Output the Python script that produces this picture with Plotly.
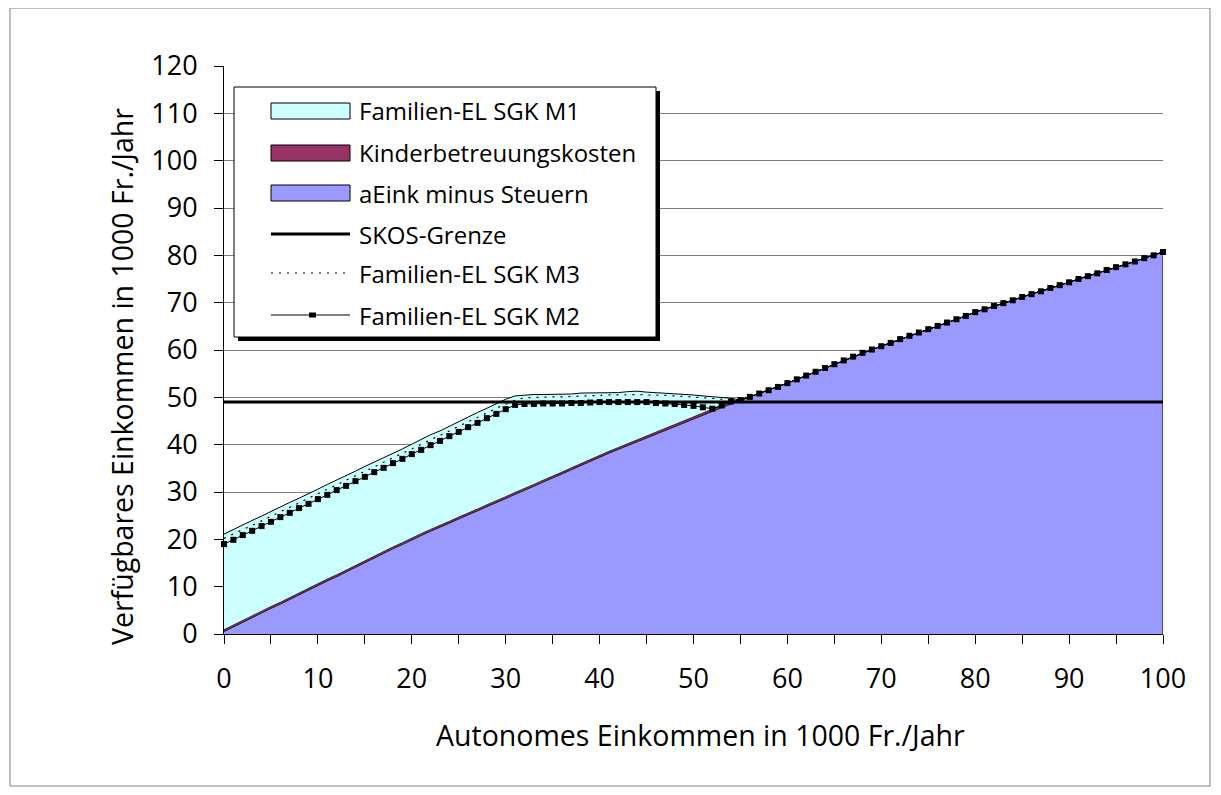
import plotly.graph_objects as go

# ---------------- data ----------------
einkommen = list(range(0, 101))  # Autonomes Einkommen, 1000 Fr./Jahr

aeink_minus_steuern = [
    0.5, 1.5, 2.4, 3.4, 4.4, 5.4, 6.3, 7.3, 8.3, 9.2, 10.2, 11.2, 12.1, 13.1, 14.1, 15.1, 16.0, 17.0, 18.0, 18.9, 19.9,
    20.8, 21.7, 22.5, 23.4, 24.3, 25.1, 26.0, 26.9, 27.7, 28.6, 29.5, 30.3, 31.2, 32.1, 32.9, 33.8, 34.7, 35.6, 36.4, 37.3, 38.2,
    39.0, 39.8, 40.6, 41.5, 42.3, 43.1, 43.9, 44.7, 45.5, 46.3, 47.1, 47.9, 48.7,
    49.4, 50.1, 50.8, 51.5, 52.2, 53.0, 53.8, 54.6, 55.4, 56.2, 57.0, 57.8, 58.6, 59.4, 60.1, 60.8,
    61.5, 62.3, 63.0, 63.7, 64.4, 65.1, 65.8, 66.5, 67.2, 68.0, 68.6, 69.3, 69.9, 70.5, 71.2, 71.8,
    72.4, 73.1, 73.7, 74.3, 75.0, 75.6, 76.2, 76.9, 77.5, 78.1, 78.7, 79.4, 80.0, 80.7,
]

kinderbetreuungskosten = [
    0.4, 0.4, 0.4, 0.4, 0.4, 0.4, 0.4, 0.4, 0.4, 0.4, 0.4, 0.4, 0.4, 0.4, 0.4, 0.4, 0.4, 0.4, 0.4, 0.4, 0.4,
    0.4, 0.4, 0.4, 0.4, 0.4, 0.4, 0.4, 0.4, 0.4, 0.4, 0.4, 0.4, 0.4, 0.4, 0.4, 0.4, 0.4, 0.4, 0.4, 0.4, 0.4,
    0.4, 0.4, 0.4, 0.4, 0.4, 0.4, 0.4, 0.4, 0.4, 0.4, 0.4, 0.4, 0.4,
    0.0, 0.0, 0.0, 0.0, 0.0, 0.0, 0.0, 0.0, 0.0, 0.0, 0.0, 0.0, 0.0, 0.0, 0.0, 0.0,
    0.0, 0.0, 0.0, 0.0, 0.0, 0.0, 0.0, 0.0, 0.0, 0.0, 0.0, 0.0, 0.0, 0.0, 0.0, 0.0,
    0.0, 0.0, 0.0, 0.0, 0.0, 0.0, 0.0, 0.0, 0.0, 0.0, 0.0, 0.0, 0.0, 0.0,
]

familien_el_m1 = [
    20.2, 20.2, 20.2, 20.2, 20.1, 20.1, 20.1, 20.1, 20.0, 20.0, 20.0, 20.0, 20.0, 19.9, 19.9, 19.9, 19.9, 19.9, 19.8, 19.8, 19.8,
    19.9, 20.0, 20.0, 20.1, 20.2, 20.3, 20.4, 20.4, 20.5, 20.6,
    20.4, 19.8, 19.0, 18.1, 17.3, 16.4, 15.6, 14.9, 14.1, 13.3, 12.4, 11.6, 11.0, 10.3, 9.2, 8.3, 7.4, 6.4, 5.5, 4.6, 3.6, 2.6, 1.6, 0.7,
    0.0, 0.0, 0.0, 0.0, 0.0, 0.0, 0.0, 0.0, 0.0, 0.0, 0.0, 0.0, 0.0, 0.0, 0.0, 0.0,
    0.0, 0.0, 0.0, 0.0, 0.0, 0.0, 0.0, 0.0, 0.0, 0.0, 0.0, 0.0, 0.0, 0.0, 0.0, 0.0,
    0.0, 0.0, 0.0, 0.0, 0.0, 0.0, 0.0, 0.0, 0.0, 0.0, 0.0, 0.0, 0.0, 0.0,
]

familien_el_m3 = [
    20.2, 21.1, 22.0, 23.0, 23.9, 24.9, 25.8, 26.8, 27.7, 28.7, 29.6, 30.6, 31.5, 32.5, 33.4, 34.4, 35.3, 36.3, 37.2, 38.2, 39.1,
    40.1, 41.0, 42.0, 42.9, 43.9, 44.8, 45.8, 46.7, 47.7, 48.6,
    49.4, 49.9, 50.0, 50.0, 50.1, 50.1, 50.2, 50.3, 50.3, 50.4, 50.5, 50.5, 50.6, 50.6, 50.5, 50.5, 50.4, 50.3, 50.2, 50.1, 50.0, 49.8, 49.6, 49.4,
    49.4, 50.1, 50.8, 51.5, 52.2, 53.0, 53.8, 54.6, 55.4, 56.2, 57.0, 57.8, 58.6, 59.4, 60.1, 60.8,
    61.5, 62.3, 63.0, 63.7, 64.4, 65.1, 65.8, 66.5, 67.2, 68.0, 68.6, 69.3, 69.9, 70.5, 71.2, 71.8,
    72.4, 73.1, 73.7, 74.3, 75.0, 75.6, 76.2, 76.9, 77.5, 78.1, 78.7, 79.4, 80.0, 80.7,
]

familien_el_m2 = [
    19.0, 19.9, 20.9, 21.8, 22.8, 23.7, 24.7, 25.6, 26.6, 27.5, 28.5, 29.4, 30.4, 31.3, 32.3, 33.2, 34.2, 35.1, 36.1, 37.0, 38.0,
    38.9, 39.9, 40.8, 41.8, 42.7, 43.7, 44.6, 45.6, 46.5, 47.5,
    48.4, 48.6, 48.6, 48.7, 48.7, 48.7, 48.8, 48.8, 48.9, 49.0, 49.0, 49.0, 49.0, 49.0, 49.0, 48.8, 48.7, 48.6, 48.4, 48.2, 47.9, 47.6, 48.3, 49.1,
    49.4, 50.1, 50.8, 51.5, 52.2, 53.0, 53.8, 54.6, 55.4, 56.2, 57.0, 57.8, 58.6, 59.4, 60.1, 60.8,
    61.5, 62.3, 63.0, 63.7, 64.4, 65.1, 65.8, 66.5, 67.2, 68.0, 68.6, 69.3, 69.9, 70.5, 71.2, 71.8,
    72.4, 73.1, 73.7, 74.3, 75.0, 75.6, 76.2, 76.9, 77.5, 78.1, 78.7, 79.4, 80.0, 80.7,
]

skos_grenze = 49.0

legend_labels = [
    "Familien-EL SGK M1",
    "Kinderbetreuungskosten",
    "aEink minus Steuern",
    "SKOS-Grenze",
    "Familien-EL SGK M3",
    "Familien-EL SGK M2",
]

x_title = "Autonomes Einkommen in 1000 Fr./Jahr"
y_title = "Verfügbares Einkommen in 1000 Fr./Jahr"

# ---------------- styles ----------------
C_CYAN = "#CCFFFF"
C_MAROON = "#993366"
C_BLUE = "#9999FF"
FONT = "Open Sans"

OFF = 8                      # page body margin
W, H = 1221 - OFF, 795 - OFF
PL, PR, PT, PB = 224, 1163, 66, 634   # plot area in page pixels


def px(xp):
    return (xp - PL) / (PR - PL)


def py(yp):
    return (PB - yp) / (PB - PT)


fig = go.Figure()

fig.add_trace(go.Scatter(x=einkommen, y=aeink_minus_steuern, stackgroup="s", mode="lines",
                         fillcolor=C_BLUE, line=dict(color="black", width=0.8), showlegend=False,
                         name=legend_labels[2]))
fig.add_trace(go.Scatter(x=einkommen, y=kinderbetreuungskosten, stackgroup="s", mode="lines",
                         fillcolor=C_MAROON, line=dict(color="black", width=0.8), showlegend=False,
                         name=legend_labels[1]))
fig.add_trace(go.Scatter(x=einkommen, y=familien_el_m1, stackgroup="s", mode="lines",
                         fillcolor=C_CYAN, line=dict(color="black", width=1), showlegend=False,
                         name=legend_labels[0]))

# right edge of the stacked area
top_last = aeink_minus_steuern[-1] + kinderbetreuungskosten[-1] + familien_el_m1[-1]
fig.add_trace(go.Scatter(x=[einkommen[-1], einkommen[-1]], y=[0, top_last], mode="lines",
                         line=dict(color="black", width=1), showlegend=False, hoverinfo="skip"))

fig.add_trace(go.Scatter(x=[einkommen[0], einkommen[-1]], y=[skos_grenze, skos_grenze], mode="lines",
                         line=dict(color="black", width=3), showlegend=False, name=legend_labels[3]))
fig.add_trace(go.Scatter(x=einkommen, y=familien_el_m3, mode="lines",
                         line=dict(color="black", width=1.2, dash="2px,6px"), showlegend=False,
                         name=legend_labels[4]))
fig.add_trace(go.Scatter(x=einkommen, y=familien_el_m2, mode="lines+markers",
                         line=dict(color="black", width=1),
                         marker=dict(symbol="square", size=6, color="black"),
                         cliponaxis=False, showlegend=False, name=legend_labels[5]))

shapes = []
# outer chart border
shapes.append(dict(type="rect", xref="paper", yref="paper", x0=px(10), x1=px(1210), y0=py(786), y1=py(8),
                   line=dict(color="#808080", width=1), layer="below"))
# legend shadow + box
shapes.append(dict(type="rect", xref="paper", yref="paper", x0=px(238), x1=px(660), y0=py(341), y1=py(91),
                   fillcolor="black", line=dict(width=0), layer="above"))
shapes.append(dict(type="rect", xref="paper", yref="paper", x0=px(234), x1=px(656), y0=py(337), y1=py(87),
                   fillcolor="white", line=dict(color="black", width=1), layer="above"))

rows = [111, 153, 193, 234, 273, 315]
sx0, sx1 = 271, 350
for yc, col in zip(rows[:3], [C_CYAN, C_MAROON, C_BLUE]):
    shapes.append(dict(type="rect", xref="paper", yref="paper", x0=px(sx0), x1=px(sx1),
                       y0=py(yc + 8), y1=py(yc - 8), fillcolor=col,
                       line=dict(color="black", width=1), layer="above"))
shapes.append(dict(type="line", xref="paper", yref="paper", x0=px(sx0), x1=px(sx1), y0=py(rows[3]), y1=py(rows[3]),
                   line=dict(color="black", width=3), layer="above"))
shapes.append(dict(type="line", xref="paper", yref="paper", x0=px(sx0), x1=px(sx1), y0=py(rows[4]), y1=py(rows[4]),
                   line=dict(color="black", width=1.2, dash="2px,6px"), layer="above"))
shapes.append(dict(type="line", xref="paper", yref="paper", x0=px(sx0), x1=px(sx1), y0=py(rows[5]), y1=py(rows[5]),
                   line=dict(color="black", width=1), layer="above"))
shapes.append(dict(type="rect", xref="paper", yref="paper", x0=px(309), x1=px(316), y0=py(rows[5] + 2.5), y1=py(rows[5] - 2.5),
                   fillcolor="black", line=dict(width=0), layer="above"))

annotations = []
for yc, lab in zip(rows, legend_labels):
    annotations.append(dict(text=lab, xref="paper", yref="paper", x=px(357), y=py(yc),
                            xanchor="left", yanchor="middle", showarrow=False,
                            font=dict(family=FONT, size=24, color="black")))
annotations.append(dict(text=x_title, xref="paper", yref="paper", x=px(700), y=py(735),
                        xanchor="center", yanchor="middle", showarrow=False,
                        font=dict(family=FONT, size=28.5, color="black")))
annotations.append(dict(text=y_title, xref="paper", yref="paper", x=px(122), y=py(377),
                        xanchor="center", yanchor="middle", showarrow=False, textangle=-90,
                        font=dict(family=FONT, size=28.5, color="black")))

fig.update_layout(
    width=W, height=H,
    margin=dict(l=PL - OFF, r=W - (PR - OFF), t=PT - OFF, b=H - (PB - OFF), pad=0),
    paper_bgcolor="white", plot_bgcolor="white",
    font=dict(family=FONT, size=27, color="black"),
    shapes=shapes, annotations=annotations,
    showlegend=False,
)
fig.update_xaxes(range=[0, 100], tickvals=list(range(0, 101, 10)), ticks="outside", ticklen=9,
                 tickcolor="black", showline=True, linecolor="black", linewidth=1, showgrid=False,
                 zeroline=False, ticklabelstandoff=12,
                 minor=dict(dtick=5, ticks="outside", ticklen=9, tickcolor="black", showgrid=False),
                 tickfont=dict(family=FONT, size=27, color="black"))
fig.update_yaxes(range=[0, 120], dtick=10, ticks="outside", ticklen=9, tickcolor="black",
                 showline=True, linecolor="black", linewidth=1, showgrid=True, gridcolor="#7f7f7f",
                 gridwidth=1, zeroline=False, ticklabelstandoff=11,
                 tickfont=dict(family=FONT, size=27, color="black"))

fig.write_html("out.html")
